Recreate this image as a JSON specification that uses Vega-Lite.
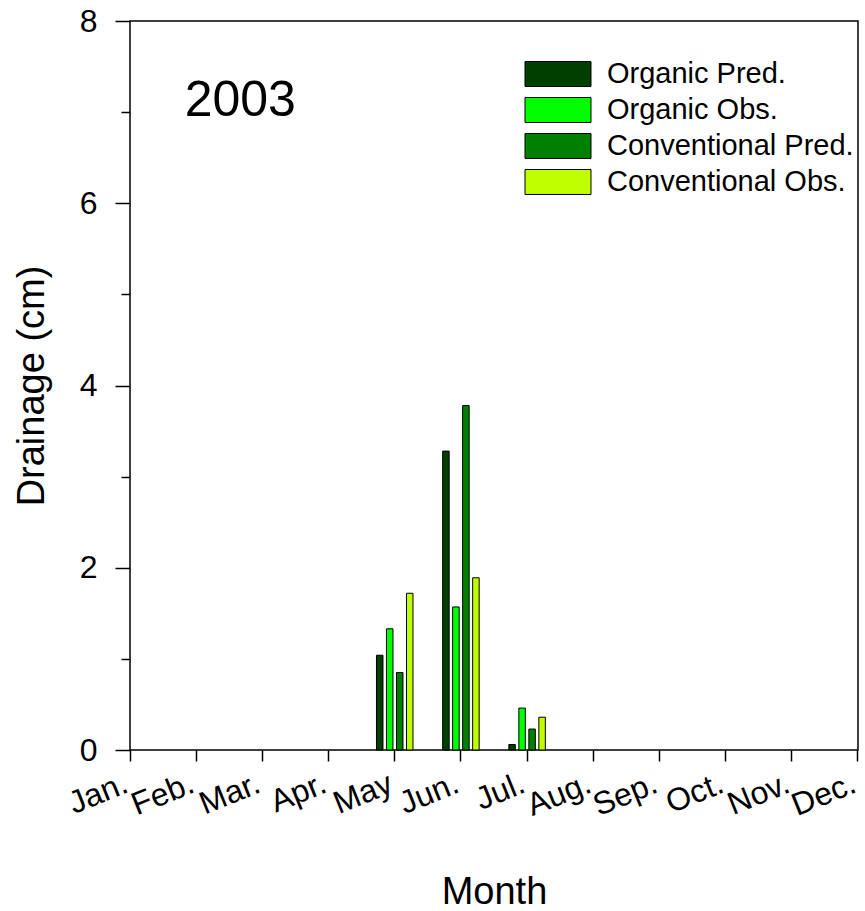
{
  "$schema": "https://vega.github.io/schema/vega-lite/v6.json",
  "width": 728,
  "height": 729,
  "autosize": "none",
  "padding": {"left": 130, "top": 21, "right": 7, "bottom": 161},
  "background": "white",
  "config": {
    "view": {"stroke": "black", "strokeWidth": 1.5},
    "font": "Liberation Sans",
    "axis": {
      "domain": false,
      "grid": false,
      "tickColor": "black",
      "tickWidth": 1.5,
      "labelColor": "black",
      "titleColor": "black",
      "labelFont": "Liberation Sans",
      "titleFont": "Liberation Sans",
      "titleFontWeight": "normal",
      "labelFontSize": 32,
      "titleFontSize": 38
    }
  },
  "layer": [
    {
      "data": {
        "values": [
          {"month": "May", "series": "Organic Pred.", "drainage": 1.04},
          {"month": "May", "series": "Organic Obs.", "drainage": 1.33},
          {"month": "May", "series": "Conventional Pred.", "drainage": 0.85},
          {"month": "May", "series": "Conventional Obs.", "drainage": 1.72},
          {"month": "Jun.", "series": "Organic Pred.", "drainage": 3.28},
          {"month": "Jun.", "series": "Organic Obs.", "drainage": 1.57},
          {"month": "Jun.", "series": "Conventional Pred.", "drainage": 3.78},
          {"month": "Jun.", "series": "Conventional Obs.", "drainage": 1.89},
          {"month": "Jul.", "series": "Organic Pred.", "drainage": 0.06},
          {"month": "Jul.", "series": "Organic Obs.", "drainage": 0.46},
          {"month": "Jul.", "series": "Conventional Pred.", "drainage": 0.23},
          {"month": "Jul.", "series": "Conventional Obs.", "drainage": 0.36}
        ]
      },
      "mark": {"type": "bar", "stroke": "black", "strokeWidth": 1},
      "encoding": {
        "x": {
          "field": "month",
          "type": "nominal",
          "scale": {
            "domain": ["Jan.", "Feb.", "Mar.", "Apr.", "May", "Jun.", "Jul.", "Aug.", "Sep.", "Oct.", "Nov.", "Dec."],
            "range": [-33.09, 761.09],
            "paddingInner": 0.3956,
            "paddingOuter": 0.1978,
            "round": false
          },
          "axis": {
            "title": "Month",
            "tickSize": 11,
            "labelAngle": -22,
            "labelAlign": "right",
            "labelBaseline": "alphabetic",
            "labelPadding": 30,
            "labelOverlap": false,
            "labelFlush": false,
            "labelBound": false,
            "titleX": 364,
            "titleY": 153,
            "titleBaseline": "alphabetic",
            "titleAlign": "center"
          }
        },
        "xOffset": {
          "field": "series",
          "type": "nominal",
          "scale": {
            "domain": ["Organic Pred.", "Organic Obs.", "Conventional Pred.", "Conventional Obs."],
            "paddingInner": 0.35,
            "paddingOuter": 0.175
          }
        },
        "y": {
          "field": "drainage",
          "type": "quantitative",
          "scale": {"domain": [0, 8], "nice": false},
          "axis": {
            "title": "Drainage (cm)",
            "values": [0, 1, 2, 3, 4, 5, 6, 7, 8],
            "format": "d",
            "labelExpr": "datum.value % 2 === 0 ? datum.label : ''",
            "tickSize": {"condition": {"test": "datum.value % 2 === 0", "value": 15}, "value": 9},
            "labelPadding": 18,
            "titleX": -87,
            "titleY": 364.5,
            "titleAngle": -90,
            "titleBaseline": "alphabetic",
            "titleAlign": "center"
          }
        },
        "color": {
          "field": "series",
          "type": "nominal",
          "scale": {
            "domain": ["Organic Pred.", "Organic Obs.", "Conventional Pred.", "Conventional Obs."],
            "range": ["#003f00", "#00ff00", "#008000", "#c0ff00"]
          },
          "legend": {
            "title": null,
            "orient": "none",
            "legendX": 413.5,
            "legendY": 38.5,
            "padding": 0,
            "symbolType": "M-2.538,-0.96H2.538V0.96H-2.538Z",
            "symbolSize": 676,
            "symbolStrokeColor": "black",
            "symbolStrokeWidth": 1,
            "symbolOpacity": 1,
            "labelFont": "Liberation Sans",
            "labelFontSize": 29,
            "labelColor": "black",
            "labelOffset": 34.5,
            "labelLimit": 400,
            "rowPadding": 6
          }
        }
      }
    },
    {
      "data": {"values": [{"label": "2003"}]},
      "mark": {"type": "text", "align": "left", "baseline": "alphabetic", "fontSize": 50, "font": "Liberation Sans", "color": "black", "dx": -11.5},
      "encoding": {
        "x": {"datum": "Feb.", "type": "nominal"},
        "y": {"datum": 6.957, "type": "quantitative"},
        "text": {"field": "label"}
      }
    }
  ]
}
